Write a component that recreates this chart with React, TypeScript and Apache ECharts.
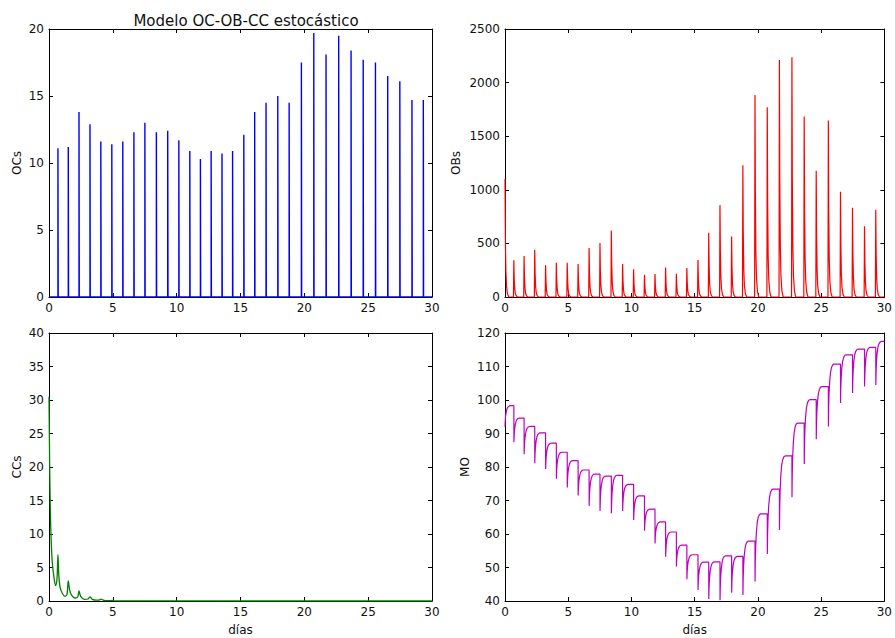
import React, { useEffect, useRef } from "react";
import * as echarts from "echarts";

// Days at which each stochastic pulse occurs (shared by all four panels)
const pulseDays = [
  0.7, 1.51, 2.35, 3.21, 4.06, 4.92, 5.78, 6.65, 7.51, 8.41, 9.3, 10.17, 11.03,
  11.86, 12.7, 13.55, 14.38, 15.26, 16.11, 17.0, 17.92, 18.81, 19.77, 20.74,
  21.7, 22.69, 23.66, 24.61, 25.57, 26.53, 27.48, 28.43, 29.32,
];

// Osteoclast peaks at each pulse
const ocPeaks = [
  11.1, 11.2, 13.8, 12.9, 11.6, 11.4, 11.6, 12.3, 13.0, 12.3, 12.4, 11.7, 10.9,
  10.3, 10.9, 10.7, 10.9, 12.1, 13.8, 14.5, 15.0, 14.5, 17.5, 19.7, 18.1, 19.5,
  18.4, 17.7, 17.5, 16.5, 16.1, 14.7, 14.7,
];

// Osteoblast peaks at each pulse, plus the value at day 0
const obInitial = 1100;
const obPeaks = [
  342, 382, 441, 295, 320, 320, 307, 456, 503, 621, 307, 258, 208, 214, 276,
  217, 270, 345, 599, 857, 565, 1230, 1885, 1770, 2211, 2236, 1683, 1177, 1646,
  981, 832, 661, 814,
];
// Shape of one osteoblast burst: [days from pulse, fraction of the peak]
const obPulseShape: [number, number][] = [
  [-0.03, 0], [0, 1], [0.03, 0.5], [0.07, 0.22], [0.12, 0.09], [0.2, 0.025], [0.3, 0],
];

// Cancer cells
const ccDays = [
  0, 0.05, 0.1, 0.16, 0.26, 0.42, 0.52, 0.63, 0.7, 0.76, 0.86, 1.04, 1.25, 1.41,
  1.51, 1.62, 1.78, 2.04, 2.25, 2.35, 2.48, 2.77, 3.05, 3.21, 3.4, 3.7, 3.95,
  4.06, 4.3, 4.8, 4.92, 5.2, 6, 30,
];
const ccValues = [
  30.5, 20.6, 14.1, 9.6, 5.7, 3.1, 2.3, 3.4, 6.9, 4.1, 2.1, 1.15, 0.7, 1.0, 3.0,
  1.6, 0.85, 0.45, 0.6, 1.5, 0.7, 0.25, 0.3, 0.62, 0.25, 0.12, 0.15, 0.28, 0.1,
  0.05, 0.1, 0.03, 0.01, 0,
];

// Bone mass: value at day 0, level reached between pulses, and dip at each pulse
const moStart = 92;
const moPlateaus = [
  98.3, 94.6, 92.1, 90.2, 87.1, 84.4, 81.9, 79.1, 77.9, 77.3, 77.5, 74.8, 71.4,
  67.4, 63.6, 60.6, 56.7, 53.8, 51.6, 51.7, 53.5, 53.3, 57.9, 66.0, 73.4, 83.3,
  93.1, 100.1, 104.0, 110.7, 113.5, 115.2, 115.7, 117.5,
];
const moTroughs = [
  87.4, 83.8, 81.1, 79.4, 76.5, 73.9, 71.5, 68.4, 66.9, 66.2, 66.9, 64.2, 61.0,
  57.2, 53.2, 50.3, 46.5, 43.3, 40.6, 40.2, 42.5, 41.8, 45.8, 54.0, 61.2, 71.0,
  80.9, 88.3, 92.1, 99.1, 102.1, 104.0, 104.5,
];
// Recovery after a dip: [days after dip, fraction recovered]
const moRecoveryShape: [number, number][] = [
  [0, 0], [0.02, 0.3], [0.05, 0.52], [0.1, 0.72], [0.17, 0.87], [0.25, 0.95],
  [0.35, 0.99], [0.45, 1],
];

const DAY_END = 30;

function ocTrace(): number[][] {
  const pts: number[][] = [[0, 0]];
  pulseDays.forEach((t, i) => {
    pts.push([t, 0], [t, ocPeaks[i]], [t + 0.02, ocPeaks[i]], [t + 0.02, 0]);
  });
  pts.push([DAY_END, 0]);
  return pts;
}

function obTrace(): number[][] {
  const pts: number[][] = [];
  obPulseShape.forEach(([dt, f]) => {
    if (dt >= 0) pts.push([dt, obInitial * f]);
  });
  pulseDays.forEach((t, i) => {
    obPulseShape.forEach(([dt, f]) => pts.push([t + dt, obPeaks[i] * f]));
  });
  pts.push([DAY_END, 0]);
  return pts;
}

function ccTrace(): number[][] {
  return ccDays.map((t, i) => [t, ccValues[i]]);
}

function moTrace(): number[][] {
  const pts: number[][] = [];
  moRecoveryShape.forEach(([dt, f]) => {
    pts.push([dt, moStart + f * (moPlateaus[0] - moStart)]);
  });
  pulseDays.forEach((t, i) => {
    const low = moTroughs[i];
    const high = moPlateaus[i + 1];
    pts.push([t, moPlateaus[i]]);
    moRecoveryShape.forEach(([dt, f]) => {
      pts.push([t + 0.005 + dt, low + f * (high - low)]);
    });
  });
  pts.push([DAY_END, moPlateaus[moPlateaus.length - 1]]);
  return pts;
}

const FONT = "DejaVu Sans";
const INK = "#111";

const grids = [
  { left: 49, top: 29, width: 383, height: 268 },
  { left: 505, top: 29, width: 383, height: 268 },
  { left: 49, top: 333, width: 383, height: 268 },
  { left: 505, top: 333, width: 383, height: 268 },
];

const yRanges = [
  { min: 0, max: 20, interval: 5, name: "OCs", gap: 26 },
  { min: 0, max: 2500, interval: 500, name: "OBs", gap: 43 },
  { min: 0, max: 40, interval: 5, name: "CCs", gap: 26 },
  { min: 40, max: 120, interval: 10, name: "MO", gap: 34 },
];

const lineStyle = { color: "#000", width: 1 };
const tickStyle = { show: true, inside: true, length: 4, lineStyle: { color: "#000", width: 1 } };
const plain = (v: number) => String(v);

function buildOption() {
  const xAxis: any[] = [];
  const yAxis: any[] = [];
  for (let g = 0; g < 4; g++) {
    xAxis.push({
      type: "value",
      gridIndex: g,
      position: "bottom",
      min: 0,
      max: DAY_END,
      interval: 5,
      axisLine: { show: true, onZero: false, lineStyle },
      axisTick: tickStyle,
      axisLabel: { fontFamily: FONT, fontSize: 12, color: INK, margin: 5, formatter: plain },
      splitLine: { show: false },
      name: g >= 2 ? "días" : "",
      nameLocation: "middle",
      nameGap: 23,
      nameTextStyle: { fontFamily: FONT, fontSize: 12, color: INK },
    });
    const r = yRanges[g];
    yAxis.push({
      type: "value",
      gridIndex: g,
      position: "left",
      min: r.min,
      max: r.max,
      interval: r.interval,
      axisLine: { show: true, onZero: false, lineStyle },
      axisTick: tickStyle,
      axisLabel: { fontFamily: FONT, fontSize: 12, color: INK, margin: 5, formatter: plain },
      splitLine: { show: false },
      name: r.name,
      nameLocation: "middle",
      nameGap: r.gap,
      nameTextStyle: { fontFamily: FONT, fontSize: 12, color: INK },
    });
  }
  // Mirror axes on the top and right edges, ticks only
  for (let g = 0; g < 4; g++) {
    xAxis.push({
      type: "value",
      gridIndex: g,
      position: "top",
      min: 0,
      max: DAY_END,
      interval: 5,
      axisLine: { show: true, onZero: false, lineStyle },
      axisTick: tickStyle,
      axisLabel: { show: false },
      splitLine: { show: false },
    });
    const r = yRanges[g];
    yAxis.push({
      type: "value",
      gridIndex: g,
      position: "right",
      min: r.min,
      max: r.max,
      interval: r.interval,
      axisLine: { show: true, onZero: false, lineStyle },
      axisTick: tickStyle,
      axisLabel: { show: false },
      splitLine: { show: false },
    });
  }

  const mk = (g: number, data: number[][], color: string, width: number, smooth: any = false) => ({
    type: "line",
    xAxisIndex: g,
    yAxisIndex: g,
    data,
    showSymbol: false,
    symbol: "none",
    smooth,
    clip: true,
    lineStyle: { color, width },
    z: 1,
  });

  return {
    animation: false,
    backgroundColor: "#fff",
    title: {
      text: "Modelo OC-OB-CC estocástico",
      left: 241,
      top: 8,
      textAlign: "center",
      textStyle: { fontFamily: FONT, fontSize: 15, fontWeight: "normal", color: INK },
    },
    grid: grids.map((g) => ({ ...g, containLabel: false })),
    xAxis,
    yAxis,
    series: [
      mk(0, ocTrace(), "#0000ff", 1.4),
      mk(1, obTrace(), "#ff0000", 1.2),
      mk(2, ccTrace(), "#008000", 1.3, 0.3),
      mk(3, moTrace(), "#bf00bf", 1.2),
    ],
  };
}

export default function App() {
  const ref = useRef<HTMLDivElement>(null);
  useEffect(() => {
    if (!ref.current) return;
    const chart = echarts.init(ref.current, undefined, { renderer: "svg" });
    chart.setOption(buildOption() as any);
    return () => chart.dispose();
  }, []);
  return (
    <div
      ref={ref}
      style={{ position: "absolute", left: 0, top: 0, width: 895, height: 638, background: "#fff" }}
    />
  );
}
